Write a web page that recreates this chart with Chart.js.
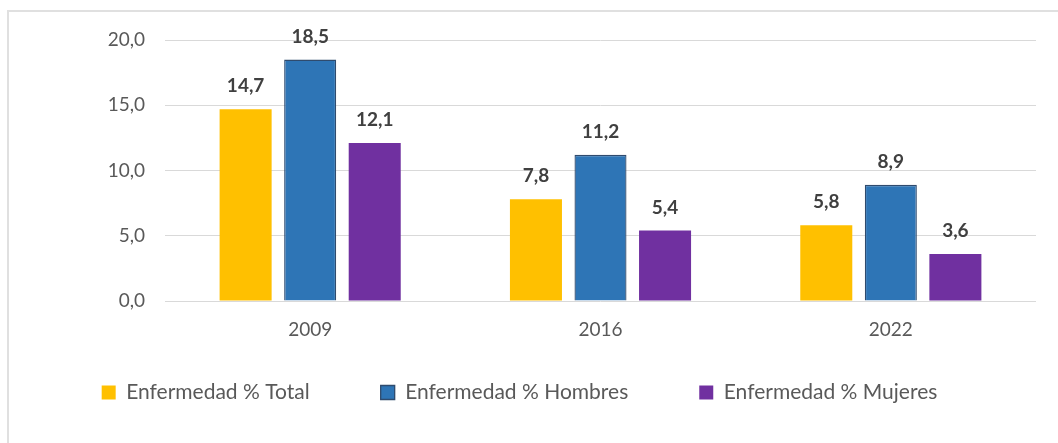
<!doctype html>
<html lang="es">
<head>
    <meta charset="utf-8">
    <script src="https://cdn.jsdelivr.net/npm/chart.js"></script>
    <style>
        html, body { margin: 0; padding: 0; background: #fff; overflow: hidden; }
        #frame { position: absolute; left: 7px; top: 10px; width: 1100px; height: 500px; border: 2px solid #e0e0e0; }
        #myGraph { position: absolute; left: 0; top: 0; }
    </style>
</head>
<body>
    <div id="frame"></div>
    <canvas id="myGraph" width="1058" height="443"></canvas>

    <script>
        // data
        var years = ['2009', '2016', '2022'];
        var total = [14.7, 7.8, 5.8];
        var hombres = [18.5, 11.2, 8.9];
        var mujeres = [12.1, 5.4, 3.6];
        var yTicks = [0, 5, 10, 15, 20];

        function coma(v, d) {
            return v.toFixed(d).replace('.', ',');
        }

        // value labels above each bar
        var barLabels = {
            id: 'barLabels',
            afterDatasetsDraw: function (chart) {
                var ctx = chart.ctx;
                ctx.save();
                ctx.font = 'bold 19px Lato';
                ctx.fillStyle = '#404040';
                ctx.textAlign = 'center';
                ctx.textBaseline = 'middle';
                chart.data.datasets.forEach(function (ds, i) {
                    chart.getDatasetMeta(i).data.forEach(function (bar, j) {
                        ctx.fillText(coma(ds.data[j], 1), bar.x, bar.y - 23);
                    });
                });
                ctx.restore();
            }
        };

        const data = {
            labels: years,
            datasets: [{
                label: 'Enfermedad % Total',
                backgroundColor: '#FFC000',
                borderWidth: 0,
                data: total
            },
            {
                label: 'Enfermedad % Hombres',
                backgroundColor: '#2E75B6',
                borderColor: '#2F4B6E',
                borderWidth: 1.3,
                data: hombres
            },
            {
                label: 'Enfermedad % Mujeres',
                backgroundColor: '#7030A0',
                borderWidth: 0,
                data: mujeres
            }]
        };

        const config = {
            type: 'bar',
            data: data,
            options: {
                responsive: false,
                animation: false,
                devicePixelRatio: 1,
                categoryPercentage: 0.667,
                barPercentage: 0.806,
                layout: { padding: { left: 3, right: 22, top: 40, bottom: 30 } },
                plugins: {
                    tooltip: { enabled: false },
                    legend: {
                        position: 'bottom',
                        labels: {
                            color: '#595959',
                            font: { family: 'Lato', size: 21 },
                            boxWidth: 14,
                            boxHeight: 14,
                            padding: 71
                        }
                    }
                },
                scales: {
                    y: {
                        min: 0,
                        max: 20,
                        afterBuildTicks: function (axis) {
                            axis.ticks = yTicks.map(function (v) { return { value: v }; });
                        },
                        afterFit: function (axis) { axis.width = 162; },
                        border: { display: false },
                        grid: { color: '#d9d9d9', lineWidth: 1, drawTicks: false },
                        ticks: {
                            padding: 20,
                            color: '#595959',
                            font: { family: 'Lato', size: 19 },
                            callback: function (v) { return coma(v, 1); }
                        }
                    },
                    x: {
                        afterFit: function (axis) { axis.height = 10; },
                        border: { display: false },
                        grid: { display: false },
                        ticks: {
                            mirror: true,
                            padding: -40,
                            color: '#595959',
                            font: { family: 'Lato', size: 19 }
                        }
                    }
                }
            },
            plugins: [barLabels]
        };

        var myChart = new Chart(document.getElementById('myGraph'), config);
    </script>
</body>
</html>
